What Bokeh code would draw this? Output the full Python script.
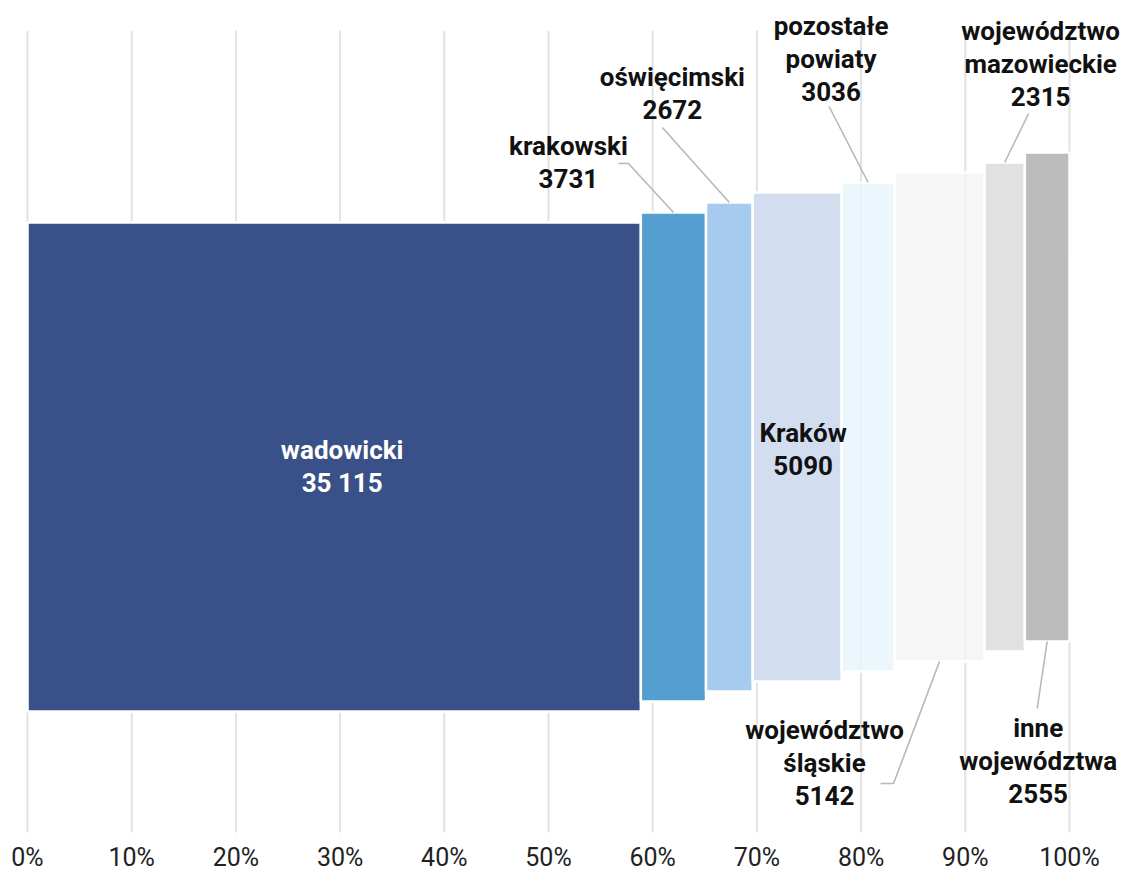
from bokeh.plotting import figure
from bokeh.models import Range1d, FixedTicker
from bokeh.core.properties import value
from bokeh.embed import file_html
from bokeh.resources import INLINE

# ---- data ----
categories = ["wadowicki", "krakowski", "oświęcimski", "Kraków", "pozostałe powiaty",
              "województwo śląskie", "województwo mazowieckie", "inne województwa"]
label_names = ["wadowicki", "krakowski", "oświęcimski", "Kraków", "pozostałe\npowiaty",
               "województwo\nśląskie", "województwo\nmazowieckie", "inne\nwojewództwa"]
values = [35115, 3731, 2672, 5090, 3036, 5142, 2315, 2555]
value_labels = ["35 115", "3731", "2672", "5090", "3036", "5142", "2315", "2555"]
tick_values = [0, 10, 20, 30, 40, 50, 60, 70, 80, 90, 100]
tick_labels = ["0%", "10%", "20%", "30%", "40%", "50%", "60%", "70%", "80%", "90%", "100%"]

# ---- styles ----
colors = ["#3a5088", "#559fd0", "#a6cbee", "#d3ddf0", "#e9f4fd", "#f4f4f4", "#e1e1e1", "#bcbcbc"]
alphas = [1, 1, 1, 1, 0.85, 0.8, 1, 1]
text_colors = ["white", "#111111", "#111111", "#111111", "#111111", "#111111", "#111111", "#111111"]
FONT = "Roboto"

W, H = 1129, 874
PX_PER_PCT = 10.42          # horizontal pixels per percent
X0_PX = 27                  # frame-left to 0% in px
FB = 832                    # assumed frame bottom (px from top)
BAR_H = 489
STEP = 10
BASE = FB - 711

# label placement: (mode, dx_px, dy_px, leader points as (dx,dy) px)
placement = [
    ("in", 8, 1, None),
    ("top", -105, 50, [(-55, 49), (-45, 49), (0, 0)]),
    ("top", -57, 109, [(-67, 75), (0, 0)]),
    ("in", 6, -12, None),
    ("top", -37, 124, [(-39, 76), (0, 0)]),
    ("bot", -115, -101, [(-59, -122), (-46, -122), (0, 0)]),
    ("top", 36, 99, [(24, 49), (0, 0)]),
    ("bot", -9, -119, [(-10, -67), (0, 0)]),
]

total = float(sum(values))
lefts, rights = [], []
acc = 0.0
for v in values:
    lefts.append(acc / total * 100)
    acc += v
    rights.append(acc / total * 100)
bottoms = [BASE + STEP * i for i in range(len(values))]
tops = [b + BAR_H for b in bottoms]

p = figure(width=W, height=H, output_backend="svg", toolbar_location=None,
           x_range=Range1d(-X0_PX / PX_PER_PCT, (W - X0_PX) / PX_PER_PCT),
           y_range=Range1d(0, FB), y_axis_location=None,
           min_border=0, min_border_left=0, min_border_right=0, min_border_top=0)
p.outline_line_color = None
p.xgrid.visible = False
p.ygrid.visible = False
p.background_fill_color = "white"

# gridlines
p.segment(x0=tick_values, x1=tick_values, y0=[-10] * len(tick_values),
          y1=[FB - 30] * len(tick_values), line_color="#e2e2e2", line_width=2)

# bars
p.quad(left=lefts, right=rights, bottom=bottoms, top=tops, fill_color=colors,
       fill_alpha=alphas, line_color="white", line_width=2.5)

# labels and leaders
lx, ly, lt, lc = [], [], [], []
xs, ys = [], []
for i, (mode, dx, dy, leader) in enumerate(placement):
    cx = (lefts[i] + rights[i]) / 2
    if mode == "in":
        ay = (bottoms[i] + tops[i]) / 2
    elif mode == "top":
        ay = tops[i]
    else:
        ay = bottoms[i]
    lx.append(cx + dx / PX_PER_PCT)
    ly.append(ay + dy)
    lt.append(label_names[i] + "\n" + value_labels[i])
    lc.append(text_colors[i])
    if leader:
        xs.append([cx + a / PX_PER_PCT for a, b in leader])
        ys.append([ay + b for a, b in leader])

p.multi_line(xs=xs, ys=ys, line_color="#b8b8b8", line_width=1.6)
p.text(x=lx, y=ly, text=lt, text_color=lc, text_align="center", text_baseline="middle",
       text_font=value(FONT), text_font_style="bold", text_font_size="26px",
       text_line_height=1.1)

ax = p.xaxis[0]
ax.ticker = FixedTicker(ticks=tick_values)
ax.major_label_overrides = {t: l for t, l in zip(tick_values, tick_labels)}
ax.axis_line_color = None
ax.major_tick_line_color = None
ax.minor_tick_line_color = None
ax.major_label_standoff = 4
ax.major_label_text_font = FONT
ax.major_label_text_font_size = "25px"
ax.major_label_text_color = "#222222"

open("out.html", "w").write(file_html(p, INLINE))
